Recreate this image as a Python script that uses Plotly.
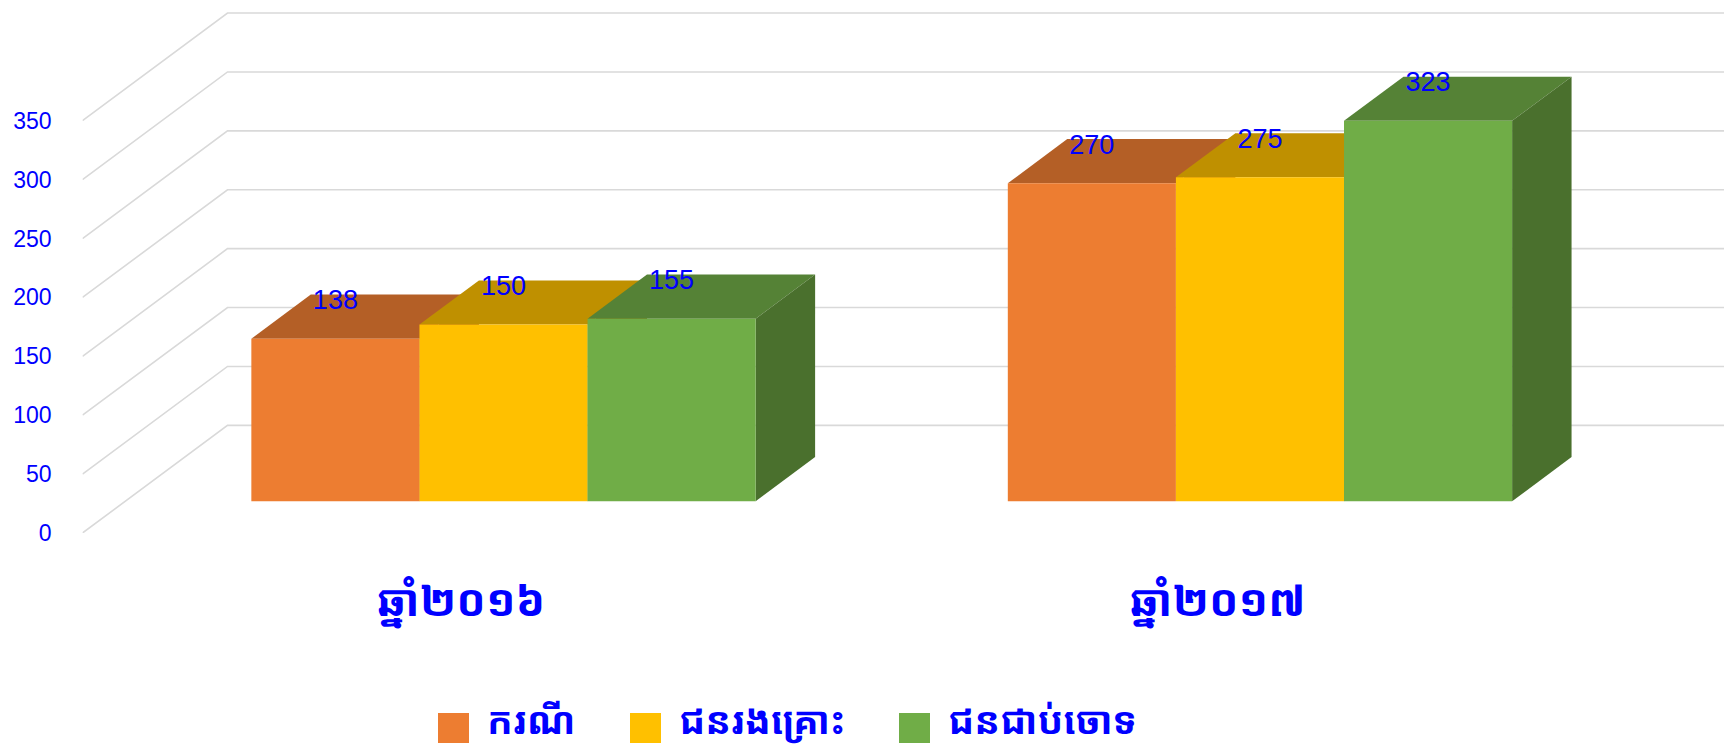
import plotly.graph_objects as go

# ---------------- data ----------------
categories = ["ឆ្នាំ២០១៦", "ឆ្នាំ២០១៧"]
series_names = ["ករណី", "ជនរងគ្រោះ", "ជនជាប់ចោទ"]
cases = [138, 270]
victims = [150, 275]
accused = [155, 323]
y_ticks = [0, 50, 100, 150, 200, 250, 300, 350]

# ---------------- style / layout ----------------
W, H = 1724, 745
front_colors = ["#ED7D31", "#FFC000", "#70AD47"]
top_colors = ["#B45F26", "#BF9000", "#558236"]
side_colors = ["#9E5320", "#A67D00", "#4A702D"]
BLUE = "#0000FF"
GRID = "#D9D9D9"
KH_FONT = "Noto Sans Khmer, Khmer OS, Khmer OS System, Noto Sans, sans-serif"
NUM_FONT = "Liberation Sans, Arial, sans-serif"
LBL_FONT = "Liberation Sans, Arial, sans-serif"

X_RANGE = [-0.5, 1.67]
Y_RANGE = [0, 452.5]
DX, DY = 0.1917, 91.4          # full depth offset (back wall) in axis units
Z0, Z1 = 0.295, 0.705          # bar front / back depth
BW = 2 / 9                     # bar width (gap width 50%)
LABEL_GAP = 30.6               # value label offset above bar front top

series = [cases, victims, accused]
fig = go.Figure()

# back wall gridlines and floor/side diagonals
for t in y_ticks:
    fig.add_trace(go.Scatter(
        x=[X_RANGE[0], X_RANGE[0] + DX, X_RANGE[1]],
        y=[t, t + DY, t + DY],
        mode="lines", line=dict(color=GRID, width=1.6),
        hoverinfo="skip", showlegend=False))

ddx = (Z1 - Z0) * DX
ddy = (Z1 - Z0) * DY
base = Z0 * DY

# top and side faces (drawn left to right so nearer faces cover farther ones)
for ci in range(len(categories)):
    for k, vals in enumerate(series):
        v = vals[ci]
        xl = ci + (k - 1.5) * BW + Z0 * DX
        xr = xl + BW
        yt = base + v
        fig.add_trace(go.Scatter(
            x=[xl, xr, xr + ddx, xl + ddx, xl],
            y=[yt, yt, yt + ddy, yt + ddy, yt],
            mode="lines", fill="toself", fillcolor=top_colors[k],
            line=dict(width=0, color=top_colors[k]),
            hoverinfo="skip", showlegend=False))
        fig.add_trace(go.Scatter(
            x=[xr, xr + ddx, xr + ddx, xr, xr],
            y=[base, base + ddy, yt + ddy, yt, base],
            mode="lines", fill="toself", fillcolor=side_colors[k],
            line=dict(width=0, color=side_colors[k]),
            hoverinfo="skip", showlegend=False))

# front faces as real bars on an overlaid y axis (drawn above the faces)
for k, vals in enumerate(series):
    xs = [ci + (k - 1) * BW + Z0 * DX for ci in range(len(categories))]
    fig.add_trace(go.Bar(
        x=xs, y=vals, base=[base] * len(vals), width=BW,
        marker=dict(color=front_colors[k], line=dict(width=0)),
        name=series_names[k], yaxis="y2", showlegend=False,
        hovertemplate="%{y}<extra>" + series_names[k] + "</extra>"))
    fig.add_trace(go.Scatter(
        x=xs, y=[base + v + LABEL_GAP for v in vals],
        text=[str(v) for v in vals], mode="text",
        textposition="middle center",
        textfont=dict(family=LBL_FONT, size=27, color=BLUE),
        yaxis="y2", hoverinfo="skip", showlegend=False))

# custom legend (large square swatches)
legend_x = [438, 630, 899]
legend_text_x = [485, 677, 946]
swatch_y = 728
text_y = 719
shapes = []
annotations = []
for k, name in enumerate(series_names):
    shapes.append(dict(
        type="rect", xref="paper", yref="paper",
        x0=legend_x[k] / W, x1=(legend_x[k] + 31) / W,
        y0=1 - (swatch_y + 15) / H, y1=1 - (swatch_y - 15) / H,
        fillcolor=front_colors[k], line=dict(width=0)))
    annotations.append(dict(
        xref="paper", yref="paper", x=legend_text_x[k] / W, y=1 - text_y / H,
        xanchor="left", yanchor="middle", text="<b>" + name + "</b>",
        showarrow=False,
        font=dict(family=KH_FONT, size=38, color=BLUE)))

fig.update_layout(
    width=W, height=H,
    margin=dict(l=0, r=0, t=0, b=0, autoexpand=False),
    paper_bgcolor="white", plot_bgcolor="white",
    barmode="overlay",
    showlegend=False,
    xaxis=dict(domain=[82.5 / W, 1], range=X_RANGE, showgrid=False,
               zeroline=False, showline=False, ticks="", automargin=False,
               tickvals=list(range(len(categories))),
               ticktext=["<b>" + c + "</b>" for c in categories],
               tickfont=dict(family=KH_FONT, size=44, color=BLUE),
               ticklabelstandoff=38),
    yaxis=dict(domain=[(H - 533) / H, 1], range=Y_RANGE, showgrid=False,
               zeroline=False, showline=False, ticks="", automargin=False,
               tickvals=y_ticks, ticktext=[str(t) for t in y_ticks],
               tickfont=dict(family=NUM_FONT, size=23, color=BLUE),
               ticklabelstandoff=30),
    yaxis2=dict(overlaying="y", range=Y_RANGE, visible=False,
                automargin=False),
    shapes=shapes, annotations=annotations,
)

fig.write_html("out.html",
               config={"displayModeBar": False},
               post_script="document.body.style.margin='0';"
                           "document.body.style.overflow='hidden';")
